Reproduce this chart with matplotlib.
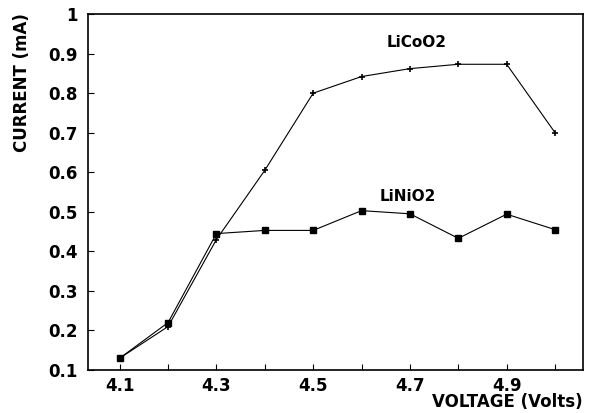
import numpy as np
import matplotlib.pyplot as plt
from matplotlib.ticker import FixedLocator, FuncFormatter

plt.rcParams['font.family'] = ['DejaVu Sans']
plt.rcParams['font.weight'] = 'bold'

# Data
voltage = [4.1, 4.2, 4.3, 4.4, 4.5, 4.6, 4.7, 4.8, 4.9, 5.0]
licoo2 = [0.13, 0.21, 0.43, 0.605, 0.80, 0.842, 0.862, 0.873, 0.873, 0.70]
linio2 = [0.13, 0.22, 0.445, 0.453, 0.453, 0.503, 0.495, 0.433, 0.494, 0.455]
x_labels = [4.1, 4.3, 4.5, 4.7, 4.9]
y_ticks = [0.1, 0.2, 0.3, 0.4, 0.5, 0.6, 0.7, 0.8, 0.9, 1.0]

fig = plt.figure(figsize=(5.89, 4.13), dpi=100)
ax = fig.add_axes([0.149, 0.104, 0.841, 0.862])

ax.plot(voltage, licoo2, color='black', lw=0.8, marker='+', ms=5, mew=1.2)
ax.plot(voltage, linio2, color='black', lw=0.8, marker='s', ms=5)

ax.text(4.713, 0.929, 'LiCoO2', ha='center', va='center', fontsize=11, fontweight='bold')
ax.text(4.696, 0.54, 'LiNiO2', ha='center', va='center', fontsize=11, fontweight='bold')

ax.set_xlim(4.034, 5.058)
ax.set_ylim(0.1, 1.0)

ax.xaxis.set_major_locator(FixedLocator(x_labels))
ax.xaxis.set_minor_locator(FixedLocator(voltage))
ax.xaxis.set_major_formatter(FuncFormatter(lambda v, p: '%.1f' % v))
ax.yaxis.set_major_locator(FixedLocator(y_ticks))
ax.yaxis.set_major_formatter(FuncFormatter(lambda v, p: '1' if abs(v - 1) < 1e-6 else '%.1f' % v))

ax.tick_params(axis='both', which='both', direction='in', length=4, width=0.8, labelsize=12)
ax.tick_params(axis='x', pad=5)
ax.tick_params(axis='y', pad=7)
for s in ax.spines.values():
    s.set_linewidth(1.2)

fig.text(0.038, 0.80, 'CURRENT (mA)', ha='center', va='center', rotation=90,
         fontsize=12, fontweight='bold')
fig.text(0.99, 0.004, 'VOLTAGE (Volts)', ha='right', va='bottom', fontsize=12, fontweight='bold')

fig.savefig('out.png', dpi=100)
